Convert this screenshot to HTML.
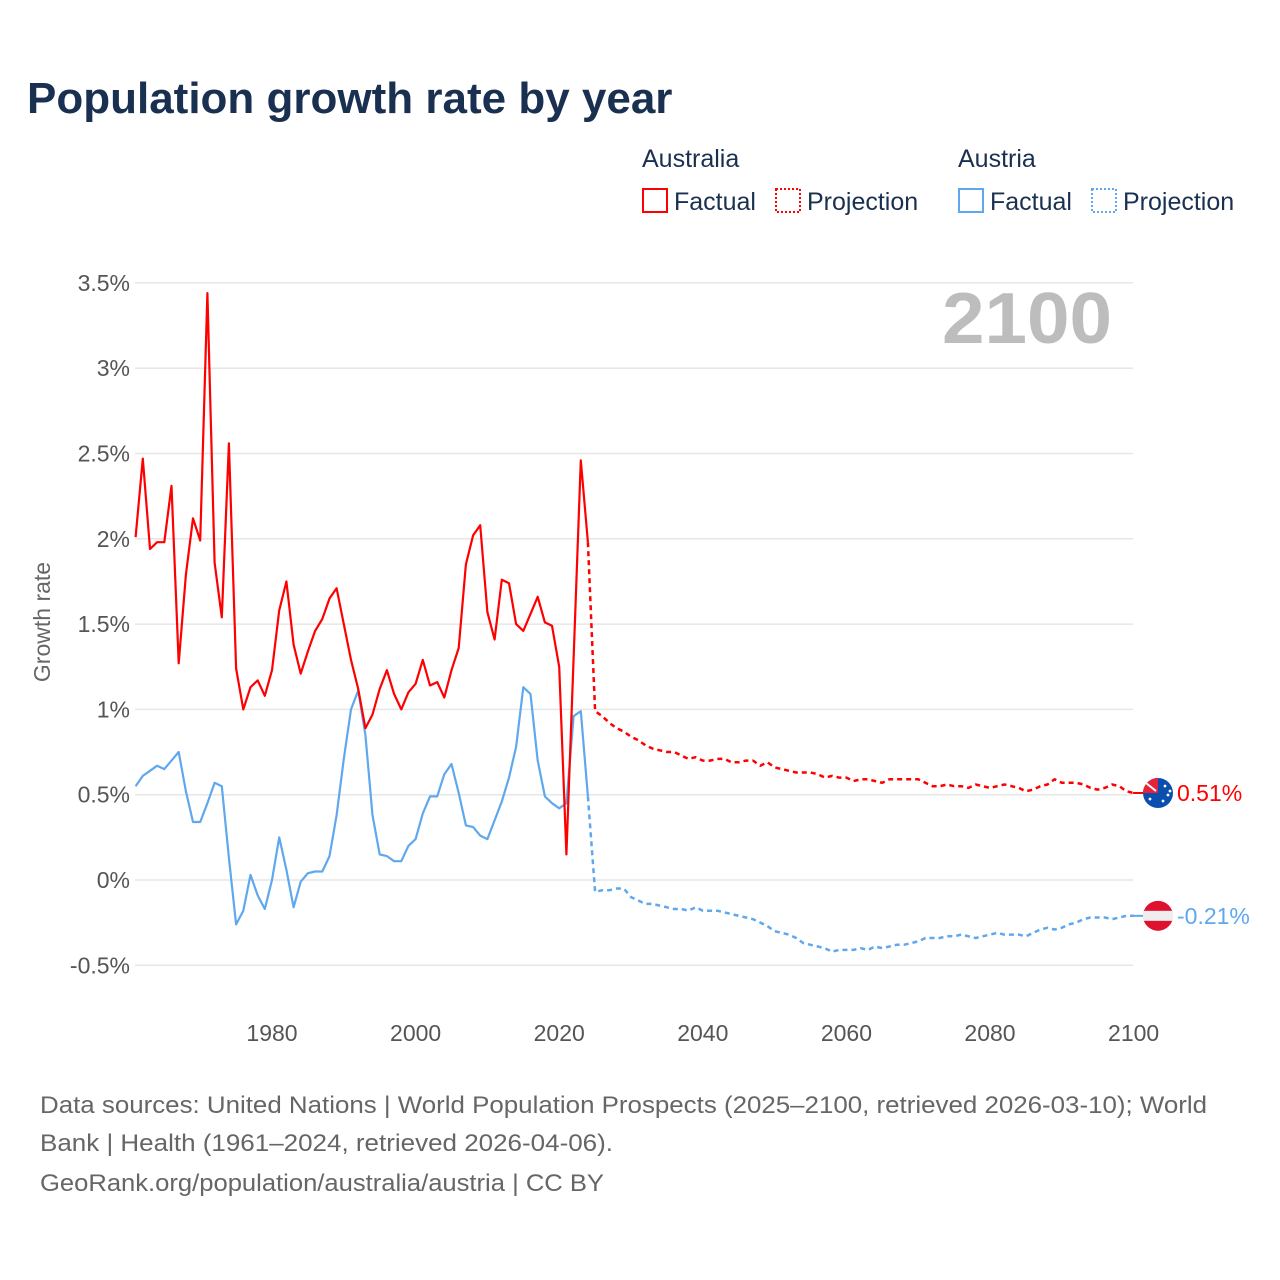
<!DOCTYPE html>
<html><head><meta charset="utf-8"><style>
body{margin:0;background:#fff;width:1280px;height:1280px;overflow:hidden;font-family:"Liberation Sans",sans-serif}
svg{display:block}
</style></head><body>
<svg id="chart" width="1280" height="1280" xmlns="http://www.w3.org/2000/svg">
<text x="27" y="113" font-size="44" font-weight="bold" fill="#1a3050">Population growth rate by year</text>
<g font-size="25" fill="#1a3050">
<text x="642" y="167">Australia</text>
<text x="958" y="167">Austria</text>
<g><rect x="643" y="189" width="24" height="23" fill="none" stroke="#ff0000" stroke-width="2"/><text x="674" y="210">Factual</text></g>
<g><rect x="776" y="189" width="24" height="23" fill="none" stroke="#ff0000" stroke-width="2" stroke-dasharray="2,2"/><text x="807" y="210">Projection</text></g>
<g><rect x="959" y="189" width="24" height="23" fill="none" stroke="#5fa8ee" stroke-width="2"/><text x="990" y="210">Factual</text></g>
<g><rect x="1092" y="189" width="24" height="23" fill="none" stroke="#5fa8ee" stroke-width="2" stroke-dasharray="2,2"/><text x="1123" y="210">Projection</text></g>
</g>
<text x="942" y="343" font-size="72" font-weight="bold" fill="#bdbdbd" textLength="170" lengthAdjust="spacingAndGlyphs">2100</text>
<text transform="translate(50,622) rotate(-90)" text-anchor="middle" font-size="23" fill="#666">Growth rate</text>
<g id="grid"></g><g id="yticks"></g><g id="xticks"></g><g id="series"></g><g id="endlabels"></g>
<g font-size="24" fill="#666">
<text x="40" y="1113" textLength="1167" lengthAdjust="spacingAndGlyphs">Data sources: United Nations | World Population Prospects (2025–2100, retrieved 2026-03-10); World</text>
<text x="40" y="1151" textLength="573" lengthAdjust="spacingAndGlyphs">Bank | Health (1961–2024, retrieved 2026-04-06).</text>
<text x="40" y="1191" textLength="564" lengthAdjust="spacingAndGlyphs">GeoRank.org/population/australia/austria | CC BY</text>
</g>
</svg>
<script>
const yTicks=[-0.5,0,0.5,1,1.5,2,2.5,3,3.5];
const yTickLabels=["-0.5%","0%","0.5%","1%","1.5%","2%","2.5%","3%","3.5%"];
const xTicks=[1980,2000,2020,2040,2060,2080,2100];
const factYears=[];for(let y=1961;y<=2024;y++)factYears.push(y);
const projYears=[];for(let y=2024;y<=2100;y++)projYears.push(y);
const ausFact=[2.01,2.47,1.94,1.98,1.98,2.31,1.27,1.79,2.12,1.99,3.44,1.86,1.54,2.56,1.24,1.0,1.13,1.17,1.08,1.23,1.58,1.75,1.38,1.21,1.34,1.46,1.53,1.65,1.71,1.5,1.29,1.12,0.89,0.97,1.12,1.23,1.09,1.0,1.1,1.15,1.29,1.14,1.16,1.07,1.23,1.36,1.85,2.02,2.08,1.57,1.41,1.76,1.74,1.5,1.46,1.56,1.66,1.51,1.49,1.25,0.15,1.3,2.46,1.98];
const autFact=[0.55,0.61,0.64,0.67,0.65,0.7,0.75,0.52,0.34,0.34,0.45,0.57,0.55,0.13,-0.26,-0.18,0.03,-0.09,-0.17,0.0,0.25,0.06,-0.16,-0.01,0.04,0.05,0.05,0.14,0.38,0.71,1.0,1.11,0.85,0.38,0.15,0.14,0.11,0.11,0.2,0.24,0.39,0.49,0.49,0.62,0.68,0.51,0.32,0.31,0.26,0.24,0.35,0.46,0.6,0.78,1.13,1.09,0.7,0.49,0.45,0.42,0.45,0.96,0.99,0.49];
const ausProj=[1.98,0.99,0.96,0.92,0.89,0.87,0.84,0.82,0.79,0.77,0.76,0.75,0.75,0.73,0.71,0.72,0.7,0.7,0.71,0.71,0.69,0.69,0.7,0.7,0.67,0.69,0.66,0.65,0.64,0.63,0.63,0.63,0.62,0.6,0.61,0.6,0.6,0.58,0.59,0.59,0.58,0.57,0.59,0.59,0.59,0.59,0.59,0.57,0.55,0.55,0.56,0.55,0.55,0.54,0.56,0.55,0.54,0.55,0.56,0.55,0.54,0.52,0.53,0.55,0.56,0.59,0.57,0.57,0.57,0.56,0.54,0.53,0.54,0.56,0.55,0.52,0.51];
const autProj=[0.49,-0.07,-0.06,-0.06,-0.05,-0.05,-0.1,-0.12,-0.14,-0.14,-0.15,-0.16,-0.17,-0.17,-0.18,-0.16,-0.18,-0.18,-0.18,-0.19,-0.2,-0.21,-0.22,-0.23,-0.25,-0.27,-0.3,-0.31,-0.32,-0.34,-0.37,-0.38,-0.39,-0.4,-0.42,-0.41,-0.41,-0.41,-0.4,-0.41,-0.39,-0.4,-0.39,-0.38,-0.38,-0.37,-0.36,-0.34,-0.34,-0.34,-0.33,-0.33,-0.32,-0.33,-0.34,-0.33,-0.32,-0.31,-0.32,-0.32,-0.32,-0.33,-0.31,-0.29,-0.28,-0.29,-0.28,-0.26,-0.25,-0.23,-0.22,-0.22,-0.22,-0.23,-0.22,-0.21,-0.21];
const endLabels=["0.51%","-0.21%"];
const NS="http://www.w3.org/2000/svg";
const X=y=>135.6+(y-1961)*7.18;
const Y=v=>880-v*170.6;
function mk(tag,attrs,parent){const e=document.createElementNS(NS,tag);for(const k in attrs)e.setAttribute(k,attrs[k]);parent.appendChild(e);return e;}
const grid=document.getElementById('grid'),yt=document.getElementById('yticks'),xt=document.getElementById('xticks'),ser=document.getElementById('series'),el=document.getElementById('endlabels');
yTicks.forEach((v,i)=>{
 const l=mk('line',{x1:135,x2:1133,y1:Y(v),y2:Y(v),stroke:'#e6e6e6','stroke-width':1.5},grid);
 
 
 const t=mk('text',{x:130,y:Y(v)+8,'text-anchor':'end','font-size':23,fill:'#555'},yt);
 t.textContent=yTickLabels[i];
 
 
});
xTicks.forEach(y=>{
 const t=mk('text',{x:X(y),y:1041,'text-anchor':'middle','font-size':23,fill:'#555'},xt);
 t.textContent=y;
 
 
});
function line(years,vals,color,dash,name){
 const d=years.map((y,i)=>(i?'L':'M')+X(y).toFixed(1)+','+Y(vals[i]).toFixed(1)).join('');
 const p=mk('path',{d:d,fill:'none',stroke:color,'stroke-width':dash?2.5:2.2,'stroke-linejoin':'round'},ser);
 if(dash)p.setAttribute('stroke-dasharray',dash);
 
 
}
line(factYears,autFact,'#5fa8ee',null,'austria-factual-line');
line(projYears,autProj,'#5fa8ee','5,4','austria-projection-line');
line(factYears,ausFact,'#ff0000',null,'australia-factual-line');
line(projYears,ausProj,'#ff0000','5,4','australia-projection-line');
const ay=Y(ausProj[ausProj.length-1]), by=Y(autProj[autProj.length-1]);
mk('line',{x1:1133,x2:1143,y1:ay,y2:ay,stroke:'#ff0000','stroke-width':2},el);
mk('line',{x1:1133,x2:1143,y1:by,y2:by,stroke:'#5fa8ee','stroke-width':2},el);
const fa=mk('g',{},el);


mk('circle',{cx:1158,cy:ay,r:15,fill:'#0a4fb0'},fa);
mk('path',{d:`M1143,${ay} A15,15 0 0 1 1158,${ay-15} L1158,${ay} Z`,fill:'#e8223a'},fa);
mk('path',{d:`M1146,${ay-10} L1156,${ay-2}`,stroke:'#fff','stroke-width':2},fa);
[[1150,ay+6],[1165,ay-7],[1168,ay+2],[1163,ay+8],[1170,ay-2]].forEach(p=>mk('circle',{cx:p[0],cy:p[1],r:1.4,fill:'#fff'},fa));
const fb=mk('g',{},el);


mk('circle',{cx:1158,cy:by,r:15,fill:'#e0102f'},fb);
mk('rect',{x:1143,y:by-5,width:30,height:10,fill:'#eeeeee'},fb);
const t1=mk('text',{x:1177,y:ay+8,'font-size':23,fill:'#ff0000'},el);
t1.textContent=endLabels[0];


const t2=mk('text',{x:1177,y:by+8,'font-size':23,fill:'#5fa8ee'},el);
t2.textContent=endLabels[1];


</script>
</body></html>
